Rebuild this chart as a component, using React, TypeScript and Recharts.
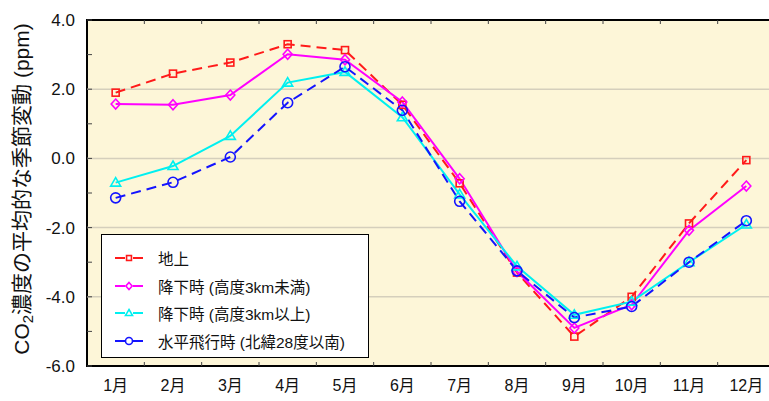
import React from 'react';
import { LineChart, Line, XAxis, YAxis, CartesianGrid, ReferenceLine, ReferenceArea } from 'recharts';

const months = [1, 2, 3, 4, 5, 6, 7, 8, 9, 10, 11, 12];
const halfMonths = [1.5, 2.5, 3.5, 4.5, 5.5, 6.5, 7.5, 8.5, 9.5, 10.5, 11.5];
const yTicks = [-6, -5, -4, -3, -2, -1, 0, 1, 2, 3, 4];
const gridValues = [2, 0, -2, -4];

const ground = [1.9, 2.45, 2.77, 3.3, 3.13, 1.55, -0.72, -3.3, -5.15, -4.0, -1.88, -0.05];
const descentLow = [1.57, 1.55, 1.83, 3.01, 2.85, 1.63, -0.59, -3.27, -4.9, -4.23, -2.08, -0.8];
const descentHigh = [-0.7, -0.22, 0.65, 2.19, 2.5, 1.19, -1.04, -3.12, -4.52, -4.14, -3.0, -1.91];
const levelFlight = [-1.14, -0.69, 0.04, 1.61, 2.65, 1.39, -1.24, -3.25, -4.6, -4.28, -3.0, -1.8];

const series = [
  { key: 'ground', name: '地上', color: '#ff1a1a', dash: '10 6', shape: 'square' },
  { key: 'descentLow', name: '降下時 (高度3km未満)', color: '#ff00ff', dash: undefined, shape: 'diamond' },
  { key: 'descentHigh', name: '降下時 (高度3km以上)', color: '#00f0f0', dash: undefined, shape: 'triangle' },
  { key: 'levelFlight', name: '水平飛行時 (北緯28度以南)', color: '#1414ff', dash: '10 6', shape: 'circle' },
];

const data = months.map((m, i) => ({
  m,
  ground: ground[i],
  descentLow: descentLow[i],
  descentHigh: descentHigh[i],
  levelFlight: levelFlight[i],
}));

const FONT = '"Liberation Sans", "Noto Sans CJK JP", sans-serif';
const PLOT_H = 346;

function Marker({ cx, cy, shape, color, s = 1 }: any) {
  if (cx == null || cy == null) return null;
  const common = { fill: 'none', stroke: color, strokeWidth: 1.6 };
  if (shape === 'square') return <rect x={cx - 3.5 * s} y={cy - 3.5 * s} width={7 * s} height={7 * s} {...common} />;
  if (shape === 'diamond')
    return (
      <polygon
        points={`${cx},${cy - 5 * s} ${cx + 4.5 * s},${cy} ${cx},${cy + 5 * s} ${cx - 4.5 * s},${cy}`}
        {...common}
      />
    );
  if (shape === 'triangle')
    return (
      <polygon
        points={`${cx},${cy - 5 * s} ${cx + 5 * s},${cy + 3.5 * s} ${cx - 5 * s},${cy + 3.5 * s}`}
        {...common}
      />
    );
  return <circle cx={cx} cy={cy} r={5 * s} {...common} />;
}

function XTick({ x, y, payload }: any) {
  const v = payload.value;
  if (Number.isInteger(v)) {
    return (
      <text x={x} y={y + 25} textAnchor="middle" fontSize={16} fontFamily={FONT} fill="#111">
        {`${v}月`}
      </text>
    );
  }
  return (
    <g stroke="#444" strokeWidth={1}>
      <line x1={x} x2={x} y1={y} y2={y - 4} />
      <line x1={x} x2={x} y1={y - PLOT_H} y2={y - PLOT_H + 4} />
    </g>
  );
}

function YTick({ x, y, payload }: any) {
  const v = payload.value;
  return (
    <g>
      {v % 2 === 0 ? (
        <text x={x - 12} y={y + 6} textAnchor="end" fontSize={17} fontFamily={FONT} fill="#111">
          {v.toFixed(1)}
        </text>
      ) : null}
      <line x1={x} x2={x + 5} y1={y} y2={y} stroke="#444" strokeWidth={1} />
    </g>
  );
}

function LegendBox() {
  return (
    <div
      style={{
        position: 'absolute',
        left: 101,
        top: 234,
        width: 268,
        height: 124,
        background: '#fff',
        border: '1.5px solid #000',
        boxSizing: 'border-box',
        padding: '9px 0 0 12px',
        fontFamily: FONT,
        fontSize: 15.5,
        color: '#111',
      }}
    >
      {series.map((s) => (
        <div key={s.key} style={{ display: 'flex', alignItems: 'center', height: 27.8 }}>
          <svg width={30} height={14} style={{ marginRight: 14 }}>
            <line x1={1} x2={29} y1={7} y2={7} stroke={s.color} strokeWidth={2} />
            <rect x={11} y={3} width={8} height={8} fill="#fff" stroke="none" />
            <Marker cx={15} cy={7} shape={s.shape} color={s.color} s={0.7} />
          </svg>
          <span>{s.name}</span>
        </div>
      ))}
    </div>
  );
}

export default function App() {
  return (
    <div style={{ position: 'fixed', left: 0, top: 0, width: 769, height: 401, overflow: 'hidden', background: '#fff' }}>
      <LineChart width={790} height={401} data={data} margin={{ top: 20, right: 15, left: 27, bottom: 0 }}>
        <CartesianGrid fill="#fdf6d8" horizontal={false} vertical={false} />
        {gridValues.map((g) => (
          <ReferenceLine key={g} y={g} stroke="#d5cfbc" strokeWidth={1.5} />
        ))}
        <XAxis
          dataKey="m"
          type="number"
          domain={[0.5, 12.5]}
          ticks={[...months, ...halfMonths].sort((a, b) => a - b)}
          interval={0}
          tick={<XTick />}
          tickSize={0}
          tickMargin={0}
          tickLine={false}
          axisLine={false}
          height={35}
        />
        <YAxis
          type="number"
          domain={[-6, 4]}
          ticks={yTicks}
          interval={0}
          tick={<YTick />}
          tickSize={0}
          tickMargin={0}
          tickLine={false}
          axisLine={false}
          width={60}
        />
        <ReferenceArea x1={0.5} x2={12.5} y1={-6} y2={4} fill="none" stroke="#000" strokeWidth={2} />
        {series.map((s) => (
          <Line
            key={s.key}
            dataKey={s.key}
            name={s.name}
            type="linear"
            stroke={s.color}
            strokeWidth={2}
            strokeDasharray={s.dash}
            dot={(p: any) => <Marker key={`${s.key}-${p.index}`} cx={p.cx} cy={p.cy} shape={s.shape} color={s.color} />}
            activeDot={false}
            isAnimationActive={false}
          />
        ))}
      </LineChart>
      <LegendBox />
      <div
        style={{
          position: 'absolute',
          left: 22 - 200,
          top: 189 - 14,
          width: 400,
          height: 28,
          lineHeight: '28px',
          textAlign: 'center',
          transform: 'rotate(-90deg)',
          fontFamily: FONT,
          fontSize: 21,
          color: '#111',
          whiteSpace: 'nowrap',
        }}
      >
        CO<sub style={{ fontSize: 15, verticalAlign: -4, lineHeight: 0 }}>2</sub>濃度の平均的な季節変動 (ppm)
      </div>
    </div>
  );
}
